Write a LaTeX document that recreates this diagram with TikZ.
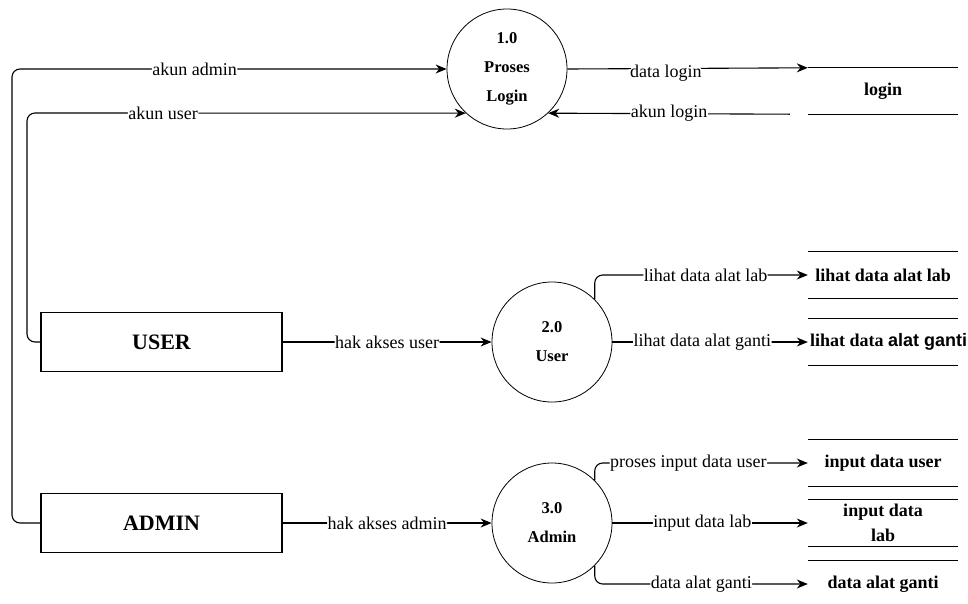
\documentclass[tikz,border=0pt]{standalone}
\usepackage{fontspec}
\setmainfont{Liberation Serif}
\setsansfont{Liberation Sans}
\usetikzlibrary{arrows.meta}

\begin{document}
\begin{tikzpicture}[x=1pt, y=-1pt,
        flow/.style={-{Stealth[length=11pt,width=9pt]}, line width=1.1pt, rounded corners=8pt},
        lbl/.style={fill=white, inner sep=0.5pt, font=\fontsize{18}{20}\selectfont},
        proc/.style={circle, draw, line width=0.8pt, minimum size=120pt, inner sep=0pt,
            align=center, font=\fontsize{16.5}{29}\selectfont\bfseries},
        ent/.style={draw, line width=1.2pt, minimum width=241pt, minimum height=59pt,
            font=\fontsize{22}{24}\selectfont\bfseries},
        store/.style={minimum width=150pt, minimum height=46pt, inner sep=1pt,
            align=center, font=\fontsize{18}{25}\selectfont\bfseries}]
    \useasboundingbox (0,0) rectangle (968,603);

    % Prozesse
    \node[proc] (p1) at (507,69) {1.0\\Proses\\Login};
    \node[proc] (p2) at (552,342) {2.0\\User};
    \node[proc] (p3) at (552,523) {3.0\\Admin};

    % Entitaeten
    \node[ent] (user) at (161.5,342) {USER};
    \node[ent] (admin) at (161.5,523) {ADMIN};

    % Datenspeicher
    \node[store] (login) at (883,91) {login};
    \node[store] (vlab) at (883,275) {lihat data alat lab};
    \node[store] (vganti) at (883,342) {\makebox[146pt][l]{lihat data \sffamily alat ganti}};
    \node[store] (inuser) at (883,463) {input data user};
    \node[store] (inlab) at (883,523) {input data\\lab};
    \node[store] (dganti) at (883,584) {data alat ganti};
    \foreach \s in {login,vlab,vganti,inuser,inlab,dganti}
        \draw[line width=1pt] (\s.north west) -- (\s.north east)
            (\s.south west) -- (\s.south east);

    % Login
    \coordinate (cadm) at (12,69);
    \coordinate (cusr) at (27,113);
    \coordinate (clog) at ([xshift=-18pt]login.south west);
    \draw[flow] (admin.west) -| (cadm) -- node[lbl, pos=0.42] {akun admin} (p1.west);
    \draw[flow] (user.west) -| (cusr) -- node[lbl, pos=0.31] {akun user} (p1.227);
    \draw[flow] (p1.east) -- node[lbl, pos=0.41, yshift=-5pt] {data login} (login.north west);
    \draw[flow] (clog) -- node[lbl] {akun login} (p1.-47);

    % Hak akses
    \draw[flow] (user.east) -- node[lbl] {hak akses user} (p2.west);
    \draw[flow] (admin.east) -- node[lbl] {hak akses admin} (p3.west);

    % User
    \draw[flow] (p2.45) |- node[lbl, pos=0.76] {lihat data alat lab} (vlab.west);
    \draw[flow] (p2.east) -- node[lbl, pos=0.46] {lihat data alat ganti} (vganti.west);

    % Admin
    \draw[flow] (p3.45) |- node[lbl, pos=0.72] {proses input data user} (inuser.west);
    \draw[flow] (p3.east) -- node[lbl, pos=0.46] {input data lab} (inlab.west);
    \draw[flow] (p3.-45) |- node[lbl, pos=0.75] {data alat ganti} (dganti.west);
\end{tikzpicture}
\end{document}
